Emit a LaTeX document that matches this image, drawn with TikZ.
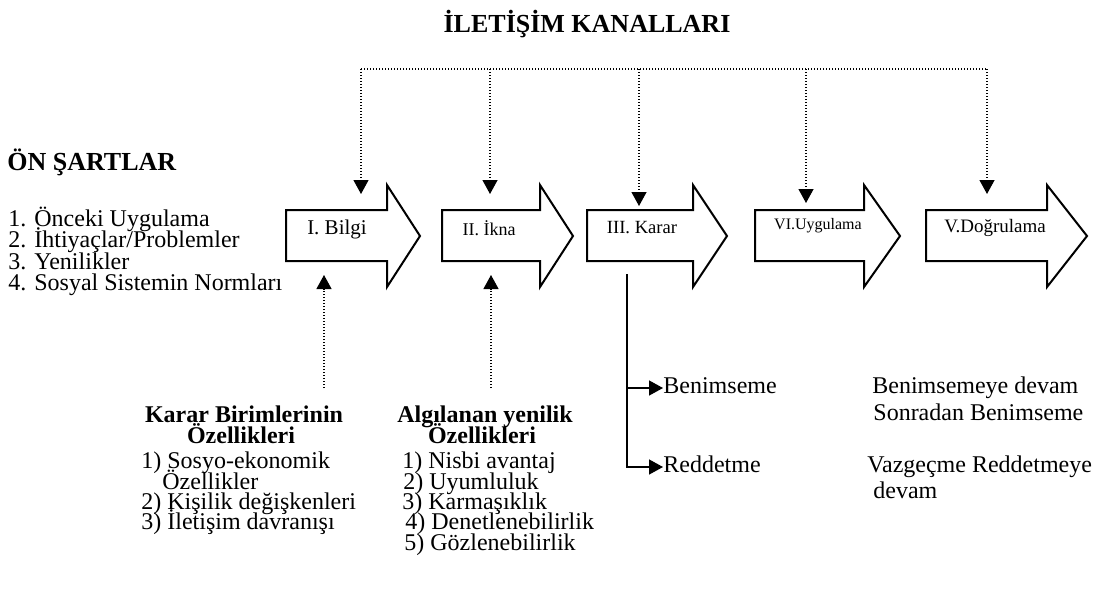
\documentclass[tikz,border=0pt]{standalone}
\usepackage{fontspec}
\setmainfont{Liberation Serif}
\usetikzlibrary{arrows.meta}

\tikzstyle{txt}=[inner sep=0pt,anchor=west,font=\fontsize{12}{14}\selectfont,text height=7.4pt,text depth=2pt]
\tikzstyle{head}=[txt,anchor=center,font=\fontsize{12}{14}\selectfont\bfseries]
\tikzstyle{big}=[inner sep=0pt,font=\fontsize{13}{15}\selectfont\bfseries]
\tikzstyle{stage}=[draw=black,line width=1pt,fill=white]
\tikzstyle{channel}=[line width=0.6pt,dash pattern=on 0.6pt off 0.9pt]
\tikzstyle{branch}=[line width=0.7pt]
\tikzstyle{dropto}=[-{Triangle[width=7.5pt,length=7pt]}]

% block arrow: shaft start, head start, tip
\newcommand{\stagearrow}[3]{%
  \draw[stage] (#1,210) -- (#2,210) -- (#2,185) -- (#3,236) -- (#2,287) -- (#2,261) -- (#1,261) -- cycle;}

\begin{document}
\begin{tikzpicture}[x=0.5pt,y=-0.5pt]
			\useasboundingbox (0,0) rectangle (1102,594);
			
			\node[big] (title) at (587,24) {İLETİŞİM KANALLARI};
			\node[big,anchor=west] (onsart) at (7,162) {ÖN ŞARTLAR};
			
			\node[txt] (s1) at (8,221) {1. Önceki Uygulama};
			\node[txt] (s2) at (8,242) {2. İhtiyaçlar/Problemler};
			\node[txt] (s3) at (8,264) {3. Yenilikler};
			\node[txt] (s4) at (8,285) {4. Sosyal Sistemin Normları};
			
			\stagearrow{286}{387}{420}
			\stagearrow{442}{540}{573}
			\stagearrow{587}{693}{727}
			\stagearrow{755}{864}{900}
			\stagearrow{926}{1047}{1087}
			
			\node[inner sep=0pt,font=\fontsize{10.5}{12}\selectfont] (bilgi) at (337,229) {I. Bilgi};
			\node[inner sep=0pt,font=\fontsize{9}{11}\selectfont] (ikna) at (489,228) {II. İkna};
			\node[inner sep=0pt,font=\fontsize{9.3}{11}\selectfont] (karar) at (642,228) {III. Karar};
			\node[inner sep=0pt,font=\fontsize{8}{10}\selectfont] (uygulama) at (818,226) {VI.Uygulama};
			\node[inner sep=0pt,font=\fontsize{9.5}{11}\selectfont] (dogrulama) at (995,228) {V.Doğrulama};
			
			% channels from the top
			\coordinate (c1) at (361,69);
			\coordinate (c2) at (490,69);
			\coordinate (c3) at (639,69);
			\coordinate (c4) at (806,69);
			\coordinate (c5) at (987,69);
			\coordinate (e1) at (361,194);
			\coordinate (e2) at (490,194);
			\coordinate (e3) at (639,206);
			\coordinate (e4) at (806,203);
			\coordinate (e5) at (987,194);
			
			\draw[channel] (c1) -- (c5);
			\draw[channel,dropto] (c1) -- (e1);
			\draw[channel,dropto] (c2) -- (e2);
			\draw[channel,dropto] (c3) -- (e3);
			\draw[channel,dropto] (c4) -- (e4);
			\draw[channel,dropto] (c5) -- (e5);
			
			% characteristics from below
			\coordinate (u1) at (324,388);
			\coordinate (v1) at (324,275);
			\coordinate (u2) at (491,388);
			\coordinate (v2) at (491,275);
			\draw[channel,dropto] (u1) -- (v1);
			\draw[channel,dropto] (u2) -- (v2);
			
			\node[head] (birim1) at (244,417) {Karar Birimlerinin};
			\node[head] (birim2) at (241,438) {Özellikleri};
			\node[txt] (b1) at (141,463) {1) Sosyo-ekonomik};
			\node[txt] (b1b) at (162,484) {Özellikler};
			\node[txt] (b2) at (141,504) {2) Kişilik değişkenleri};
			\node[txt] (b3) at (141,524) {3) İletişim davranışı};
			
			\node[head] (yeni1) at (485,417) {Algılanan yenilik};
			\node[head] (yeni2) at (482,438) {Özellikleri};
			\node[txt] (y1) at (402,463) {1) Nisbi avantaj};
			\node[txt] (y2) at (403,484) {2) Uyumluluk};
			\node[txt] (y3) at (402,504) {3) Karmaşıklık};
			\node[txt] (y4) at (405,524) {4) Denetlenebilirlik};
			\node[txt] (y5) at (404,545) {5) Gözlenebilirlik};
			
			% decision branches
			\coordinate (k0) at (627,274);
			\coordinate (k1) at (627,388);
			\coordinate (k2) at (627,467);
			\node[txt] (benim) at (663,388) {Benimseme};
			\node[txt] (redd) at (663,467) {Reddetme};
			\draw[branch,dropto] (k0) -- (k2) -- (redd.west);
			\draw[branch,dropto] (k1) -- (benim.west);
			
			\node[txt] (devam1) at (872,388) {Benimsemeye devam};
			\node[txt] (sonra) at (873,415) {Sonradan Benimseme};
			\node[txt] (vazgec) at (867,467) {Vazgeçme Reddetmeye};
			\node[txt] (devam2) at (873,493) {devam};
		\end{tikzpicture}
\end{document}
